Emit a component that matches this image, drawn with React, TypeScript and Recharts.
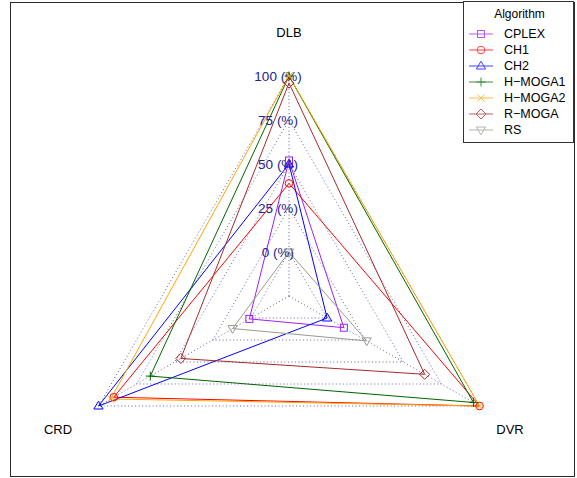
import React from 'react';
import {
  RadarChart,
  Radar,
  PolarGrid,
  PolarAngleAxis,
  PolarRadiusAxis,
  Legend,
} from 'recharts';

// axes of the radar, clockwise from the top
const AXES = ['DLB', 'DVR', 'CRD'];

// values in % for each algorithm, same order as AXES
const CPLEX = [52, 11, 1];
const CH1 = [39, 100, 90];
const CH2 = [50, 0, 100];
const HMOGA1 = [100, 96, 66];
const HMOGA2 = [100, 100, 92];
const RMOGA = [96, 64, 46];
const RS = [0, 26, 12];

const RADIUS_TICKS = [0, 25, 50, 75, 100];
// fmsb style: 0 % is one step away from the centre
const RADIUS_DOMAIN = [-25, 100];

const FONT = '"Liberation Sans", Arial, Helvetica, sans-serif';

const SERIES = [
  { name: 'CPLEX', values: CPLEX, color: '#A020F0', marker: 'square' },
  { name: 'CH1', values: CH1, color: '#FF0000', marker: 'circle' },
  { name: 'CH2', values: CH2, color: '#0000FF', marker: 'triangle' },
  { name: 'H\u2212MOGA1', values: HMOGA1, color: '#006400', marker: 'plus' },
  { name: 'H\u2212MOGA2', values: HMOGA2, color: '#FFA500', marker: 'cross' },
  { name: 'R\u2212MOGA', values: RMOGA, color: '#A52A2A', marker: 'diamond' },
  { name: 'RS', values: RS, color: '#9A9A90', marker: 'down' },
];

const data = AXES.map((axis, i) => {
  const row: Record<string, any> = { axis };
  SERIES.forEach((s) => {
    row[s.name] = s.values[i];
  });
  return row;
});

const CX = 289;
const CY = 296;
const OUTER = 220;

const Marker = ({ x, y, shape, color }: { x: number; y: number; shape: string; color: string }) => {
  const p = { fill: 'none', stroke: color, strokeWidth: 1 };
  switch (shape) {
    case 'square':
      return <rect x={x - 3.5} y={y - 3.5} width={7} height={7} {...p} />;
    case 'circle':
      return <circle cx={x} cy={y} r={3.8} {...p} />;
    case 'triangle':
      return <polygon points={`${x},${y - 4.8} ${x + 4.6},${y + 3} ${x - 4.6},${y + 3}`} {...p} />;
    case 'down':
      return <polygon points={`${x},${y + 4.8} ${x + 4.6},${y - 3} ${x - 4.6},${y - 3}`} {...p} />;
    case 'plus':
      return <path d={`M${x - 4.5},${y}H${x + 4.5}M${x},${y - 4.5}V${y + 4.5}`} {...p} />;
    case 'cross':
      return <path d={`M${x - 3.5},${y - 3.5}L${x + 3.5},${y + 3.5}M${x - 3.5},${y + 3.5}L${x + 3.5},${y - 3.5}`} {...p} />;
    case 'diamond':
      return <polygon points={`${x},${y - 5} ${x + 5},${y} ${x},${y + 5} ${x - 5},${y}`} {...p} />;
    default:
      return null;
  }
};

const AngleTick = (props: any) => {
  const { x, y, payload } = props;
  const dx = x - CX;
  const dy = y - CY;
  const len = Math.sqrt(dx * dx + dy * dy) || 1;
  const ux = dx / len;
  const uy = dy / len;
  return (
    <text
      x={CX + ux * 261 + (uy > 0 ? -5 : 0)}
      y={CY + uy * 265 + 1}
      textAnchor="middle"
      dominantBaseline="central"
      fontFamily={FONT}
      fontSize={13}
      fill="#000"
    >
      {payload.value}
    </text>
  );
};

const RadiusTick = (props: any) => {
  const { x, y, payload } = props;
  return (
    <text
      x={x - OUTER * 0.05}
      y={y}
      textAnchor="middle"
      dominantBaseline="central"
      fontFamily={FONT}
      fontSize={13.5}
      fill="#22228a"
    >
      {`${payload.value} (%)`}
    </text>
  );
};

const LegendBox = () => (
  <div
    style={{
      width: 111,
      height: 142,
      border: '1px solid #333',
      background: '#fff',
      fontFamily: FONT,
      boxSizing: 'border-box',
      position: 'relative',
    }}
  >
    <div style={{ position: 'absolute', left: 0, width: 111, top: 5, textAlign: 'center', fontSize: 12 }}>Algorithm</div>
    {SERIES.map((s, i) => (
      <div key={s.name} style={{ position: 'absolute', left: 4, top: 24 + i * 16, height: 16, display: 'flex', alignItems: 'center' }}>
        <svg width={26} height={16} style={{ display: 'block', opacity: 0.75 }}>
          <line x1={1} y1={8} x2={25} y2={8} stroke={s.color} strokeWidth={1} />
          <Marker x={13} y={8} shape={s.marker} color={s.color} />
        </svg>
        <span style={{ marginLeft: 10, fontSize: 12.5, color: '#000' }}>{s.name}</span>
      </div>
    ))}
  </div>
);

export default function App() {
  return (
    <div style={{ position: 'absolute', left: 0, top: 0, width: 577, height: 478, background: '#fff' }}>
      <div
        style={{
          position: 'absolute',
          left: 10,
          top: 2,
          width: 565,
          height: 475,
          border: '1.5px solid #2a2a2a',
          boxSizing: 'border-box',
        }}
      />
      <div style={{ position: 'absolute', left: 0, top: 0 }}>
        <RadarChart
          width={577}
          height={478}
          data={data}
          cx={CX}
          cy={CY}
          outerRadius={OUTER}
          margin={{ top: 0, right: 0, bottom: 0, left: 0 }}
        >
          <PolarGrid gridType="polygon" stroke="#6464b4" strokeDasharray="1 2.5" strokeWidth={1} />
          <PolarAngleAxis dataKey="axis" tick={<AngleTick />} tickLine={false} axisLine={false} />
          <PolarRadiusAxis
            angle={90}
            type="number"
            domain={RADIUS_DOMAIN}
            ticks={RADIUS_TICKS}
            tick={<RadiusTick />}
            axisLine={false}
            tickLine={false}
          />
          {SERIES.map((s) => (
            <Radar
              key={s.name}
              name={s.name}
              dataKey={s.name}
              stroke={s.color}
              strokeWidth={1}
              fill="none"
              fillOpacity={0}
              isAnimationActive={false}
              dot={(p: any) => <Marker key={`${s.name}-${p.index}`} x={p.cx} y={p.cy} shape={s.marker} color={s.color} />}
            />
          ))}
          <Legend
            content={() => <LegendBox />}
            wrapperStyle={{ position: 'absolute', left: 463, top: 1, width: 111, height: 142 }}
          />
        </RadarChart>
      </div>
    </div>
  );
}
